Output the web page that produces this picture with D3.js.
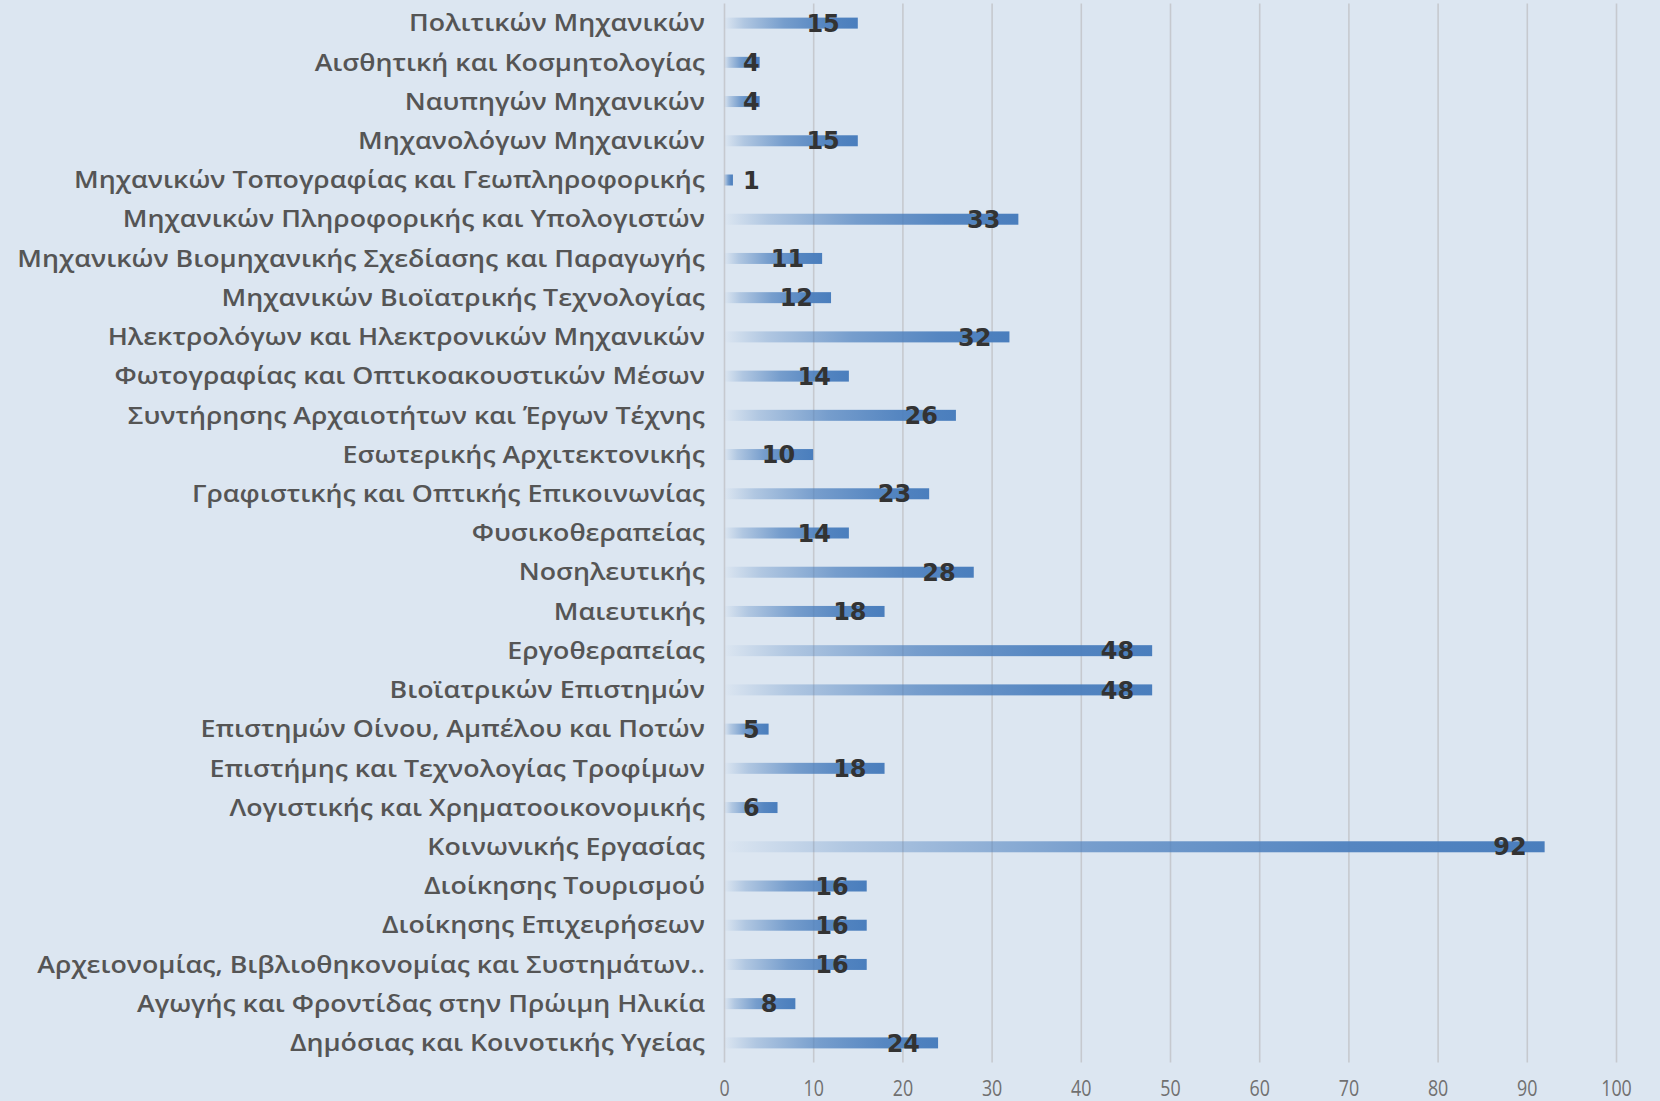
<!DOCTYPE html>
<html>
<head>
<meta charset="utf-8">
<script src="https://cdn.jsdelivr.net/npm/d3@7"></script>
<style>
  html, body { margin: 0; padding: 0; background: #dce6f1; }
  svg { display: block; }
</style>
</head>
<body>
<svg id="chart" width="1660" height="1101"></svg>
<script>
const categories = [
  "Πολιτικών Μηχανικών",
  "Αισθητική και Κοσμητολογίας",
  "Ναυπηγών Μηχανικών",
  "Μηχανολόγων Μηχανικών",
  "Μηχανικών Τοπογραφίας και Γεωπληροφορικής",
  "Μηχανικών Πληροφορικής και Υπολογιστών",
  "Μηχανικών Βιομηχανικής Σχεδίασης και Παραγωγής",
  "Μηχανικών Βιοϊατρικής Τεχνολογίας",
  "Ηλεκτρολόγων και Ηλεκτρονικών Μηχανικών",
  "Φωτογραφίας και Οπτικοακουστικών Μέσων",
  "Συντήρησης Αρχαιοτήτων και Έργων Τέχνης",
  "Εσωτερικής Αρχιτεκτονικής",
  "Γραφιστικής και Οπτικής Επικοινωνίας",
  "Φυσικοθεραπείας",
  "Νοσηλευτικής",
  "Μαιευτικής",
  "Εργοθεραπείας",
  "Βιοϊατρικών Επιστημών",
  "Επιστημών Οίνου, Αμπέλου και Ποτών",
  "Επιστήμης και Τεχνολογίας Τροφίμων",
  "Λογιστικής και Χρηματοοικονομικής",
  "Κοινωνικής Εργασίας",
  "Διοίκησης Τουρισμού",
  "Διοίκησης Επιχειρήσεων",
  "Αρχειονομίας, Βιβλιοθηκονομίας και Συστημάτων..",
  "Αγωγής και Φροντίδας στην Πρώιμη Ηλικία",
  "Δημόσιας και Κοινοτικής Υγείας"
];
const values = [15, 4, 4, 15, 1, 33, 11, 12, 32, 14, 26, 10, 23, 14, 28, 18, 48, 48, 5, 18, 6, 92, 16, 16, 16, 8, 24];
const tickValues = [0, 10, 20, 30, 40, 50, 60, 70, 80, 90, 100];

const svg = d3.select("#chart");
const W = 1660, H = 1101;

const x = d3.scaleLinear().domain([0, 100]).range([724, 1616]);
const y = d3.scaleBand().domain(categories).range([3.5, 1062.5]).padding(0);
const barH = 11;

svg.append("rect").attr("width", W).attr("height", H).attr("fill", "#dce6f1");

const defs = svg.append("defs");
const grad = defs.append("linearGradient").attr("id", "barGrad")
  .attr("x1", "0%").attr("x2", "100%").attr("y1", "0%").attr("y2", "0%");
[[0, 0.0], [0.15, 0.3], [0.45, 0.7], [0.75, 0.92], [1, 1]].forEach(([o, a]) => {
  grad.append("stop").attr("offset", o).attr("stop-color", "#4a7ebd").attr("stop-opacity", a);
});

const gridAxis = d3.axisBottom(x).tickValues(tickValues).tickSize(-(1062.5 - 3.5)).tickFormat("");
const grid = svg.append("g").attr("transform", "translate(0,1062.5)").call(gridAxis);
grid.select(".domain").remove();
grid.selectAll("line").attr("stroke", "#c6c9cf").attr("stroke-width", 1.6);

const tickAxis = d3.axisBottom(x).tickValues(tickValues).tickSize(0).tickPadding(0);
const tk = svg.append("g").attr("transform", "translate(0,1081)").call(tickAxis);
tk.select(".domain").remove();
tk.selectAll("text")
  .attr("fill", "#707070")
  .attr("font-family", "'Open Sans', sans-serif")
  .attr("font-size", 21)
  .attr("dy", "0.71em")
  .attr("transform", "scale(0.85,1)");

svg.append("g").selectAll("rect").data(values).join("rect")
  .attr("x", x(0))
  .attr("y", (d, i) => y(categories[i]) + y.bandwidth() / 2 - barH / 2)
  .attr("width", d => x(d) - x(0))
  .attr("height", barH)
  .attr("fill", "url(#barGrad)");

const yAxis = d3.axisLeft(y).tickSize(0).tickPadding(0);
const ya = svg.append("g").attr("transform", "translate(705,0)").call(yAxis);
ya.select(".domain").remove();
const catText = ya.selectAll("text")
  .attr("fill", "#555555")
  .attr("font-family", "'Open Sans', 'Noto Sans', sans-serif")
  .attr("font-weight", 600)
  .attr("font-size", 24)
  .attr("dy", "0.34em");
let maxW = 0;
catText.each(function() { maxW = Math.max(maxW, this.getComputedTextLength()); });
const sx = 688 / maxW;
catText.attr("transform", `scale(${sx},1)`);

const lab = svg.append("g").selectAll("text").data(values).join("text")
  .attr("font-family", "'DejaVu Sans', Verdana, sans-serif")
  .attr("font-weight", "bold")
  .attr("font-size", 24)
  .attr("fill", "#333333")
  .attr("y", (d, i) => y(categories[i]) + y.bandwidth() / 2)
  .attr("dy", "0.36em")
  .text(d => d);
lab.each(function(d) {
  const w = this.getComputedTextLength();
  const left = Math.max(x(d) - 18 - w, x(0) + 19);
  d3.select(this).attr("x", left);
});
</script>
</body>
</html>
